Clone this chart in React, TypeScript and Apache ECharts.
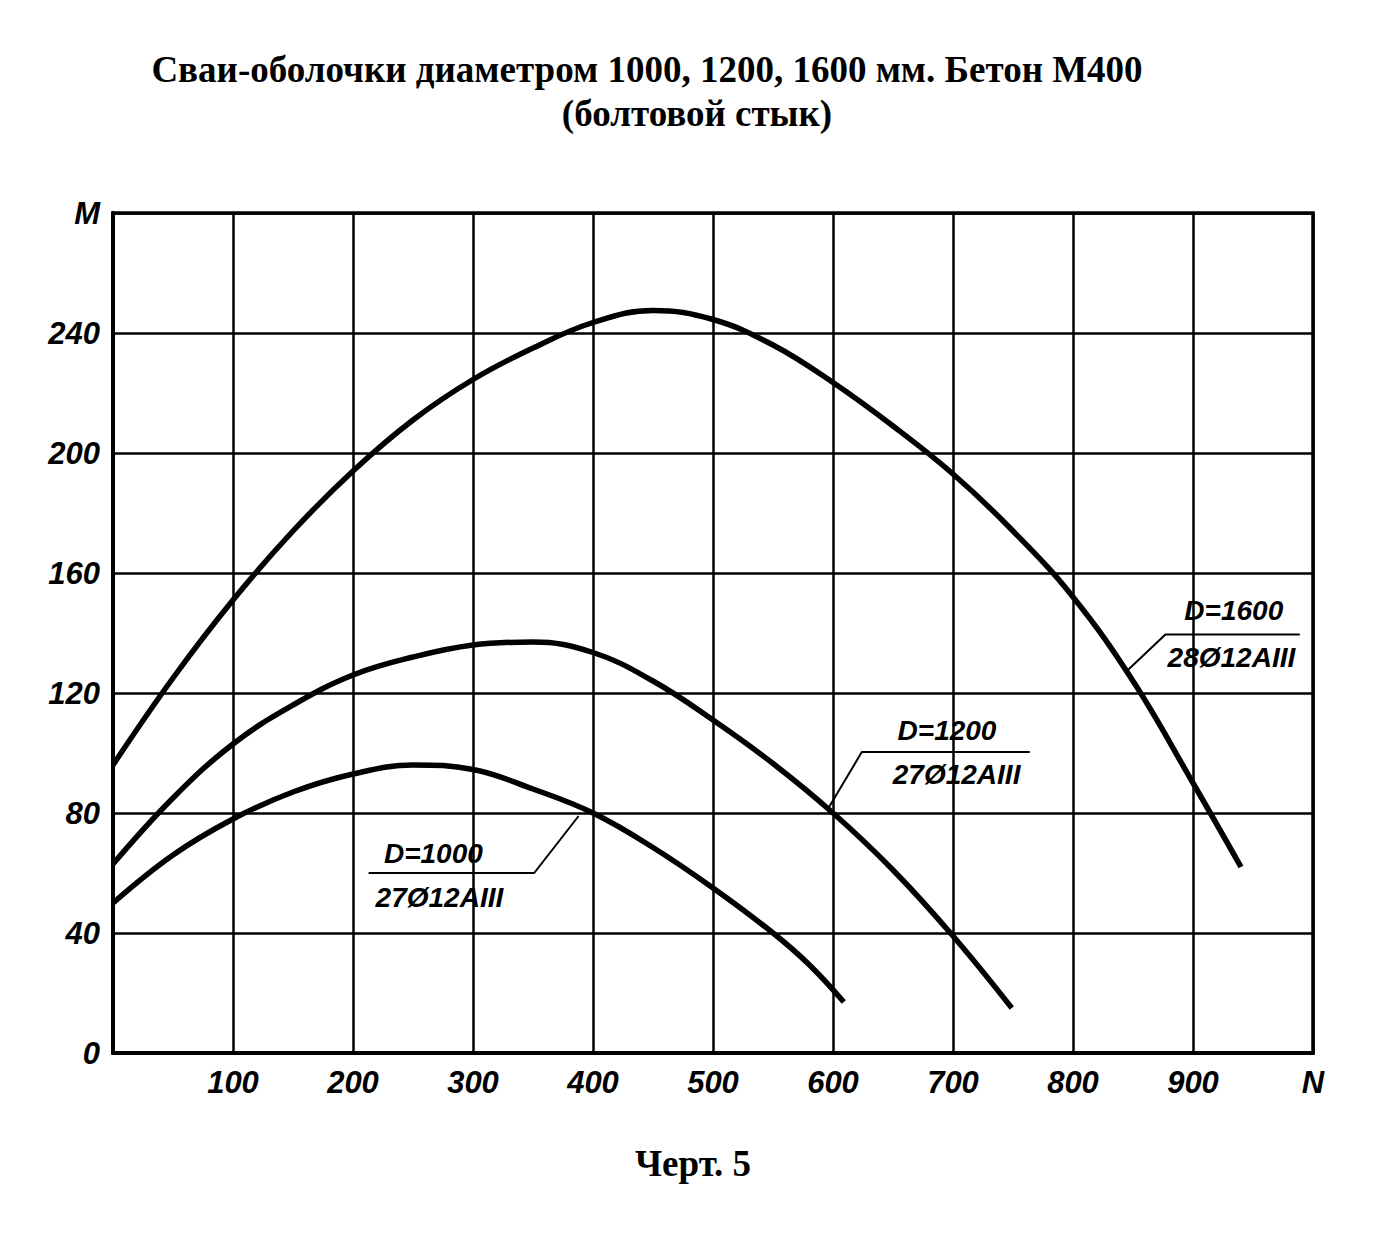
import React, { useEffect, useRef } from "react";
import * as echarts from "echarts";

const TITLE_1 = "Сваи-оболочки диаметром 1000, 1200, 1600 мм. Бетон М400";
const TITLE_2 = "(болтовой стык)";
const CAPTION = "Черт. 5";

const N_1600 = [0, 50, 100, 150, 200, 250, 300, 350, 400, 450, 500, 550, 600, 650, 700, 750, 800, 850, 900, 940];
const M_1600 = [96, 125, 151, 174, 194, 211, 224.5, 235, 243.5, 247.5, 244.5, 236, 223.5, 209, 193, 174, 152, 124, 90, 62];

const N_1200 = [0, 50, 100, 150, 200, 250, 300, 350, 400, 450, 500, 550, 600, 650, 700, 749];
const M_1200 = [63, 85, 103, 116, 126, 132, 136, 137, 133.5, 124, 111, 96.5, 80, 61, 39, 15];

const N_1000 = [0, 50, 100, 150, 200, 250, 300, 350, 400, 450, 500, 550, 580, 609];
const M_1000 = [50, 66, 78, 87, 93, 96, 94.5, 88, 80, 68.5, 55, 40, 29.5, 17];

// leader lines (N, M)
const LEADER_1600 = [[844, 127], [877, 139.5], [989, 139.5]];
const LEADER_1200 = [[596, 81.5], [624, 100.3], [764, 100.3]];
const LEADER_1000 = [[388, 79], [351, 60], [213, 60]];

// annotation texts: [N, M, text]
const NOTES: [number, number, string][] = [
  [934, 147.5, "D=1600"],
  [932, 132, "28Ø12AIII"],
  [695, 107.5, "D=1200"],
  [703, 93, "27Ø12AIII"],
  [267, 66.5, "D=1000"],
  [272, 52, "27Ø12AIII"],
];

const X_TICKS_LABELS: Record<number, string> = { 0: "", 1000: "N" };
const Y_TICKS_LABELS: Record<number, string> = { 280: "M" };

const zip = (a: number[], b: number[]) => a.map((v, i) => [v, b[i]]);

export default function App() {
  const ref = useRef<HTMLDivElement>(null);
  useEffect(() => {
    if (!ref.current) return;
    const chart = echarts.init(ref.current, null, { renderer: "svg" });
    const curve = (name: string, data: number[][]) => ({
      type: "line",
      name,
      data,
      smooth: 0.4,
      showSymbol: false,
      symbol: "none",
      lineStyle: { color: "#000", width: 5.5 },
      z: 5,
    });
    const leader = (data: number[][]) => ({
      type: "line",
      data,
      smooth: false,
      symbol: "none",
      lineStyle: { color: "#000", width: 2 },
      z: 4,
    });
    const labelFont = {
      fontFamily: "'Liberation Sans Narrow', 'Liberation Sans', sans-serif",
      fontStyle: "italic",
      fontWeight: "bold",
      fontSize: 31,
      color: "#000",
    };
    const titleStyle = { fontFamily: "'Liberation Serif', serif", fontWeight: "bold", fontSize: 37, color: "#000" };
    chart.setOption({
      animation: false,
      backgroundColor: "#fff",
      title: [
        { text: TITLE_1, left: 642, top: 46, textAlign: "center", textStyle: titleStyle },
        { text: TITLE_2, left: 692, top: 90, textAlign: "center", textStyle: titleStyle },
        { text: CAPTION, left: 688, top: 1140, textAlign: "center", textStyle: titleStyle },
      ],
      grid: {
        left: 113,
        right: 74,
        top: 213,
        bottom: 182,
        show: true,
        borderColor: "#000",
        borderWidth: 3.5,
        backgroundColor: "transparent",
      },
      xAxis: {
        type: "value",
        min: 0,
        max: 1000,
        interval: 100,
        axisLine: { show: true, lineStyle: { color: "#000", width: 4 } },
        axisTick: { show: false },
        splitLine: { show: true, lineStyle: { color: "#000", width: 2.5 } },
        axisLabel: {
          ...labelFont,
          margin: 14,
          formatter: (v: number) => (v in X_TICKS_LABELS ? X_TICKS_LABELS[v] : String(v)),
        },
      },
      yAxis: {
        type: "value",
        min: 0,
        max: 280,
        interval: 40,
        axisLine: { show: true, lineStyle: { color: "#000", width: 4 } },
        axisTick: { show: false },
        splitLine: { show: true, lineStyle: { color: "#000", width: 2.5 } },
        axisLabel: {
          ...labelFont,
          margin: 13,
          formatter: (v: number) => (v in Y_TICKS_LABELS ? Y_TICKS_LABELS[v] : String(v)),
        },
      },
      series: [
        curve("D=1600", zip(N_1600, M_1600)),
        curve("D=1200", zip(N_1200, M_1200)),
        curve("D=1000", zip(N_1000, M_1000)),
        leader(LEADER_1600),
        leader(LEADER_1200),
        leader(LEADER_1000),
      ],
    });
    const graphic = NOTES.map(([x, y, t]) => {
      const p = chart.convertToPixel({ gridIndex: 0 }, [x, y]) as number[];
      return {
        type: "text",
        x: p[0],
        y: p[1],
        z: 10,
        style: {
          text: t,
          x: 0,
          y: 0,
          align: "center",
          verticalAlign: "middle",
          fontFamily: "'Liberation Sans', sans-serif",
          fontStyle: "italic",
          fontWeight: "bold",
          fontSize: 28,
          fill: "#000",
        },
      };
    });
    chart.setOption({ graphic });
    return () => chart.dispose();
  }, []);
  return (
    <div
      ref={ref}
      style={{ position: "fixed", left: 0, top: 0, width: 1387, height: 1235, background: "#fff" }}
    />
  );
}
